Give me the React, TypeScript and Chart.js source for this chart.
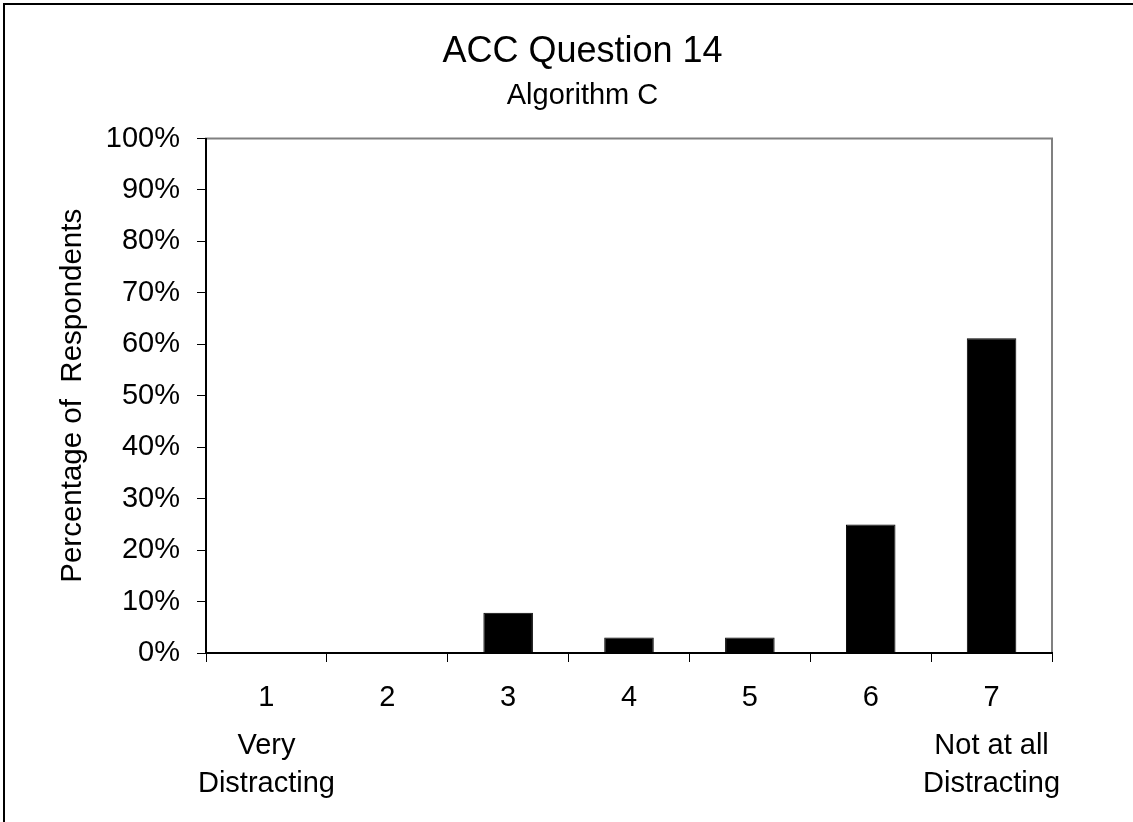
import React, { useEffect, useRef } from "react";
import { Chart, registerables } from "chart.js";

Chart.register(...registerables);

const categories = ["1", "2", "3", "4", "5", "6", "7"];
const anchorLabels: (string | string[])[] = [["Very", "Distracting"], "", "", "", "", "", ["Not at all", "Distracting"]];
const percentages = [0, 0, 7.8, 3.0, 3.0, 25.0, 61.2];
const titleText = "ACC Question 14";
const subtitleText = "Algorithm C";
const yAxisTitle = "Percentage of  Respondents";

const FONT = "'Liberation Sans', Arial, sans-serif";

const framePlugin = {
  id: "frame",
  beforeDraw(chart: any) {
    const { ctx, chartArea } = chart;
    if (!chartArea) return;
    ctx.save();
    ctx.strokeStyle = "#808080";
    ctx.lineWidth = 2;
    ctx.strokeRect(chartArea.left, chartArea.top, chartArea.right - chartArea.left, chartArea.bottom - chartArea.top);
    ctx.restore();
  },
};

export default function App() {
  const ref = useRef<HTMLCanvasElement | null>(null);

  useEffect(() => {
    if (!ref.current) return;
    const chart = new Chart(ref.current, {
      type: "bar",
      data: {
        labels: categories,
        datasets: [
          {
            data: percentages,
            backgroundColor: "#000000",
            borderColor: "#000000",
            borderWidth: 1,
            categoryPercentage: 1,
            barPercentage: 0.41,
            xAxisID: "x",
            yAxisID: "y",
          },
        ],
      },
      options: {
        animation: false,
        responsive: false,
        maintainAspectRatio: false,
        layout: { padding: { left: 32, right: 0, top: 0, bottom: 0 } },
        plugins: {
          legend: { display: false },
          tooltip: { enabled: false },
          title: {
            display: true,
            text: titleText,
            color: "#000",
            font: { family: FONT, size: 36, weight: "normal", lineHeight: 1.2 },
            padding: { top: 30, bottom: 0 },
          },
          subtitle: {
            display: true,
            text: subtitleText,
            color: "#000",
            font: { family: FONT, size: 29, weight: "normal", lineHeight: 1.2 },
            padding: { top: 5, bottom: 25.5 },
          },
        },
        scales: {
          x: {
            type: "category",
            position: "bottom",
            offset: true,
            grid: {
              display: true,
              offset: true,
              drawOnChartArea: false,
              drawTicks: true,
              tickLength: 9,
              color: "#000",
              lineWidth: 1,
            },
            border: { display: true, color: "#000", width: 2 },
            ticks: {
              color: "#000",
              font: { family: FONT, size: 29, lineHeight: 1.2 },
              padding: 19,
              maxRotation: 0,
              autoSkip: false,
            },
            afterFit: (scale: any) => {
              scale.height = 60;
            },
          },
          x2: {
            type: "category",
            position: "bottom",
            offset: true,
            labels: anchorLabels as any,
            grid: { display: false, drawTicks: false, drawOnChartArea: false },
            border: { display: false },
            ticks: {
              color: "#000",
              font: { family: FONT, size: 29, lineHeight: 1.3 },
              padding: 14,
              maxRotation: 0,
              autoSkip: false,
            },
            afterFit: (scale: any) => {
              scale.height = 109;
            },
          },
          y: {
            min: 0,
            max: 100,
            grid: {
              display: true,
              drawOnChartArea: false,
              drawTicks: true,
              tickLength: 9,
              color: "#000",
              lineWidth: 1,
            },
            border: { display: true, color: "#000", width: 2 },
            ticks: {
              stepSize: 10,
              color: "#000",
              font: { family: FONT, size: 29 },
              padding: 17,
              callback: (v: any) => v + "%",
            },
            title: {
              display: true,
              text: yAxisTitle,
              color: "#000",
              font: { family: FONT, size: 29.5, lineHeight: 1.2 },
              padding: { top: 23, bottom: 0 },
            },
            afterFit: (scale: any) => {
              scale.width = 174;
            },
          },
          yRight: {
            type: "linear",
            position: "right",
            display: true,
            grid: { display: false, drawTicks: false, drawOnChartArea: false },
            border: { display: false },
            ticks: { display: false },
            afterFit: (scale: any) => {
              scale.width = 81;
            },
          },
        },
      },
      plugins: [framePlugin],
    });
    return () => chart.destroy();
  }, []);

  return (
    <div style={{ position: "absolute", left: 0, top: 0, width: 1133, height: 822, background: "#fff", overflow: "hidden" }}>
      <canvas ref={ref} width={1133} height={822} style={{ position: "absolute", left: 0, top: 0, width: 1133, height: 822 }} />
      <div
        style={{
          position: "absolute",
          left: 3,
          top: 3,
          width: 1140,
          height: 830,
          borderLeft: "2px solid #000",
          borderTop: "2px solid #000",
          boxSizing: "border-box",
          pointerEvents: "none",
        }}
      />
    </div>
  );
}
